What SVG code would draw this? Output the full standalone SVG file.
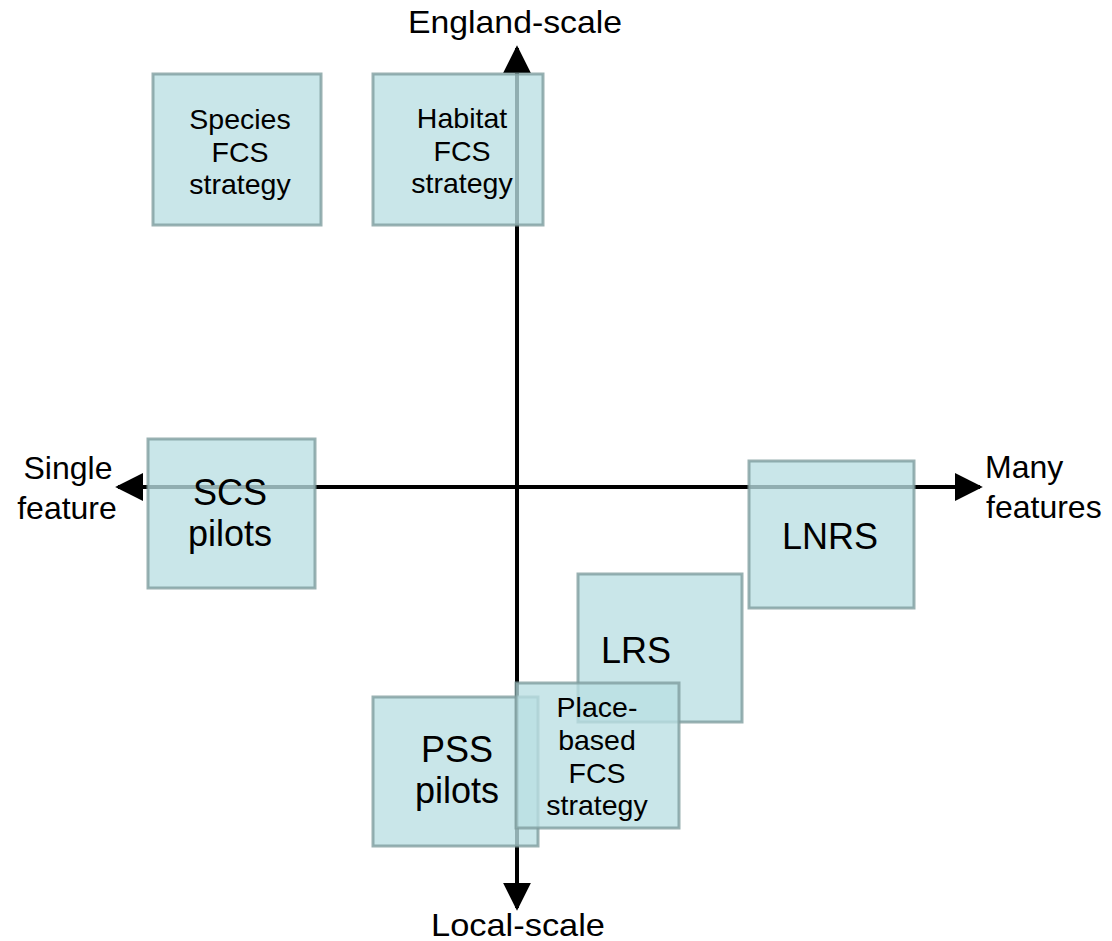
<svg xmlns="http://www.w3.org/2000/svg" width="1112" height="941" viewBox="0 0 1112 941">
<defs>
<style>
text{font-family:"Liberation Sans",Arial,sans-serif;fill:#000;text-anchor:middle}
.ax{font-size:32px}
.s{font-size:28.5px}
.b{font-size:36px}
.box{fill:rgb(186,223,227);fill-opacity:0.78;stroke:#7f9e9f;stroke-opacity:0.8;stroke-width:3}
.line{stroke:#000;stroke-width:4;fill:none}
</style>
<marker id="ah" viewBox="0 0 10 10" refX="9" refY="5" markerWidth="7" markerHeight="7" markerUnits="strokeWidth" orient="auto"><path d="M0,0 L10,5 L0,10 Z" fill="#000"/></marker>
</defs>
<rect width="1112" height="941" fill="#fff"/>
<g id="connectors">
<line class="line" x1="517" y1="487" x2="517" y2="48" marker-end="url(#ah)"/>
<line class="line" x1="517" y1="487" x2="517" y2="908" marker-end="url(#ah)"/>
<line class="line" x1="517" y1="487" x2="118" y2="487" marker-end="url(#ah)"/>
<line class="line" x1="517" y1="487" x2="980" y2="487" marker-end="url(#ah)"/>
</g>
<g id="axis-labels">
<text class="ax" x="515" y="33" textLength="214" lengthAdjust="spacingAndGlyphs">England-scale</text>
<text class="ax" x="518" y="936" textLength="174" lengthAdjust="spacingAndGlyphs">Local-scale</text>
<text class="ax" x="68" y="479">Single</text>
<text class="ax" x="67" y="519">feature</text>
<text class="ax" x="985" y="478" style="text-anchor:start">Many</text>
<text class="ax" x="986" y="518" style="text-anchor:start">features</text>
</g>
<g id="species">
<rect class="box" x="153" y="74" width="168" height="151"/>
<text class="s" x="240" y="129">Species</text>
<text class="s" x="240" y="162">FCS</text>
<text class="s" x="240" y="194">strategy</text>
</g>
<g id="habitat">
<rect class="box" x="373" y="74" width="170" height="151"/>
<text class="s" x="462" y="128">Habitat</text>
<text class="s" x="462" y="161">FCS</text>
<text class="s" x="462" y="193">strategy</text>
</g>
<g id="scs">
<rect class="box" x="148" y="439" width="167" height="149"/>
<text class="b" x="230" y="505">SCS</text>
<text class="b" x="230" y="546">pilots</text>
</g>
<g id="lnrs">
<rect class="box" x="749" y="461" width="165" height="147"/>
<text class="b" x="830" y="549">LNRS</text>
</g>
<g id="lrs">
<rect class="box" x="578" y="574" width="164" height="148"/>
<text class="b" x="636" y="663">LRS</text>
</g>
<g id="pss">
<rect class="box" x="373" y="697" width="165" height="149"/>
<text class="b" x="457" y="762">PSS</text>
<text class="b" x="457" y="803">pilots</text>
</g>
<g id="placebased">
<rect class="box" x="516" y="683" width="163" height="145"/>
<text class="s" x="597" y="717">Place-</text>
<text class="s" x="597" y="750">based</text>
<text class="s" x="597" y="783">FCS</text>
<text class="s" x="597" y="815">strategy</text>
</g>
</svg>
